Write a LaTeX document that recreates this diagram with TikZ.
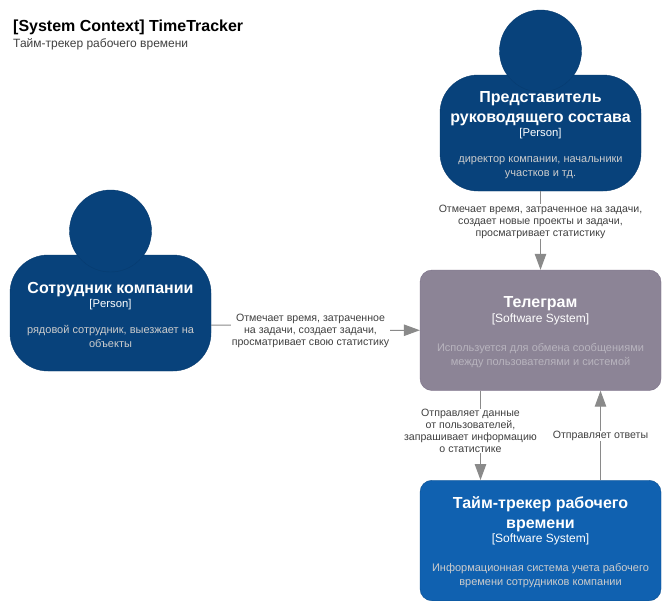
\documentclass[tikz,border=0pt]{standalone}
\usepackage{fontspec}
\setmainfont{Liberation Sans}
\usetikzlibrary{arrows.meta}
\definecolor{personfill}{HTML}{08427B}
\definecolor{personline}{HTML}{073B6F}
\definecolor{tgfill}{HTML}{8C8496}
\definecolor{tgline}{HTML}{7A6F87}
\definecolor{sysfill}{HTML}{1061B0}
\definecolor{sysline}{HTML}{0D5091}
\definecolor{conn}{HTML}{8A8A8A}
\definecolor{labeltext}{HTML}{404040}
\definecolor{desctext}{HTML}{CCCCCC}
\definecolor{tgdesc}{HTML}{B8B4BE}
\tikzset{
  x=1pt,y=-1pt,
  personbody/.style={draw=personline,fill=personfill,rounded corners=38pt,minimum width=201pt,minimum height=116pt,inner sep=0pt},
  personhead/.style={circle,draw=personline,fill=personfill,minimum size=82pt,inner sep=0pt},
  sysbox/.style={rounded corners=12pt,minimum width=241pt,minimum height=120.5pt,inner sep=0pt},
  nametext/.style={text=white,font=\fontsize{16}{20}\selectfont\bfseries,align=center,inner sep=0pt},
  typetext/.style={text=white,font=\fontsize{12}{14}\selectfont,align=center,inner sep=0pt},
  persontype/.style={typetext,font=\fontsize{11.3}{14}\selectfont},
  desctxt/.style={text=desctext,font=\fontsize{11}{14}\selectfont,align=center,inner sep=0pt},
  rel/.style={draw=conn,line width=1pt,-{Triangle[length=16pt,width=11.5pt,fill=conn]}},
  rellabel/.style={fill=white,text=labeltext,font=\fontsize{10.6}{12}\selectfont,align=center,inner sep=0.5pt},
  titletext/.style={anchor=west,text=black,inner sep=0pt},
}
\begin{document}
\begin{tikzpicture}
\useasboundingbox (0,0) rectangle (671,611);
\fill[white] (0,0) rectangle (671,611);

\node[titletext,font=\fontsize{16}{20}\selectfont\bfseries] (title) at (13,27) {[System Context] TimeTracker};
\node[titletext,font=\fontsize{12}{14}\selectfont,text=labeltext] (subtitle) at (13,44) {Тайм-трекер рабочего времени};

% Boxes
\node[personbody] (boss) at (540.5,133) {};
\node[personhead] (bosshead) at (540.5,51) {};
\node[personbody] (emp) at (110.5,313) {};
\node[personhead] (emphead) at (110.5,231) {};
\node[sysbox,draw=tgline,fill=tgfill] (tg) at (540.5,330.25) {};
\node[sysbox,draw=sysline,fill=sysfill] (sys) at (540.5,540.5) {};

% Connectors
\draw[rel] (boss.south) -- (tg.north);
\draw[rel] ([yshift=-12pt]emp.east) -- (310,325.2) -- (310,330.25) -- (tg.west);
\draw[rel] ([xshift=-60pt]tg.south) -- ([xshift=-60pt]sys.north);
\draw[rel] ([xshift=60pt]sys.north) -- ([xshift=60pt]tg.south);

% Connector labels
\node[rellabel] (l1) at (540.5,221.5) {Отмечает время, затраченное на задачи,\\создает новые проекты и задачи,\\просматривает статистику};
\node[rellabel] (l2) at (310.5,331) {Отмечает время, затраченное\\на задачи, создает задачи,\\просматривает свою статистику};
\node[rellabel] (l3) at (470.5,431) {Отправляет данные\\от пользователей,\\запрашивает информацию\\о статистике};
\node[rellabel] (l4) at (600.5,436) {Отправляет ответы};

% Box texts
\node[nametext] (bossname) at (540.5,109) {Представитель\\руководящего состава};
\node[persontype] (bosstype) at (540.5,134) {[Person]};
\node[desctxt] (bossdesc) at (540.5,168) {директор компании, начальники\\участков и тд.};

\node[nametext] (empname) at (110.5,290) {Сотрудник компании};
\node[persontype] (emptype) at (110.5,305) {[Person]};
\node[desctxt] (empdesc) at (110.5,336.5) {рядовой сотрудник, выезжает на\\объекты};

\node[nametext] (tgname) at (540.5,303.5) {Телеграм};
\node[typetext] (tgtype) at (540.5,319.5) {[Software System]};
\node[desctxt,text=tgdesc] (tgdesc) at (540.5,356) {Используется для обмена сообщениями\\между пользователями и системой};

\node[nametext] (sysname) at (540.5,514) {Тайм-трекер рабочего\\времени};
\node[typetext] (systype) at (540.5,539.5) {[Software System]};
\node[desctxt] (sysdesc) at (540.5,576) {Информационная система учета рабочего\\времени сотрудников компании};
\end{tikzpicture}
\end{document}
